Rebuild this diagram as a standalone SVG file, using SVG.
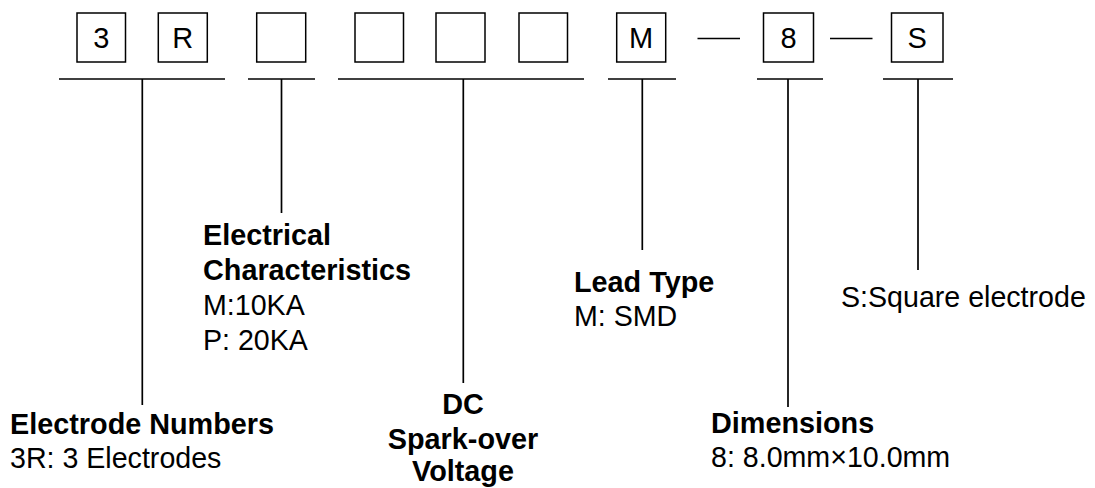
<svg xmlns="http://www.w3.org/2000/svg" width="1095" height="488" viewBox="0 0 1095 488">
<style>
.box{fill:#fff;stroke:#000;stroke-width:1.5}
.ln{stroke:#000;stroke-width:1.7;fill:none}
.bt{font-family:"Liberation Sans",Arial,sans-serif;font-size:29px;fill:#000;text-anchor:middle}
.h{font-family:"Liberation Sans",Arial,sans-serif;font-size:28.8px;font-weight:bold;fill:#000}
.t{font-family:"Liberation Sans",Arial,sans-serif;font-size:28.6px;fill:#000}
</style>
<rect width="1095" height="488" fill="#fff"/>
<g id="code-boxes">
<g id="box-3"><rect class="box" x="77" y="13" width="48.5" height="49"/><text class="bt" x="101.2" y="48">3</text></g>
<g id="box-R"><rect class="box" x="158.3" y="13" width="49" height="49"/><text class="bt" x="182.8" y="48">R</text></g>
<g id="box-e"><rect class="box" x="256.7" y="13" width="49" height="49"/></g>
<g id="box-v1"><rect class="box" x="355" y="13" width="48.5" height="49"/></g>
<g id="box-v2"><rect class="box" x="436" y="13" width="49" height="49"/></g>
<g id="box-v3"><rect class="box" x="519" y="13" width="48.5" height="49"/></g>
<g id="box-M"><rect class="box" x="616.7" y="13" width="49" height="49"/><text class="bt" x="641.2" y="48">M</text></g>
<g id="box-8"><rect class="box" x="763.5" y="13" width="50" height="49"/><text class="bt" x="788.5" y="48">8</text></g>
<g id="box-S"><rect class="box" x="891.5" y="13" width="51.5" height="49"/><text class="bt" x="917.2" y="48">S</text></g>
</g>
<g id="connectors">
<line class="ln" x1="697.5" y1="38.5" x2="740" y2="38.5"/>
<line class="ln" x1="830" y1="38.5" x2="872.5" y2="38.5"/>
<line class="ln" x1="59" y1="79" x2="225" y2="79"/>
<line class="ln" x1="248" y1="79" x2="315" y2="79"/>
<line class="ln" x1="338" y1="79" x2="584" y2="79"/>
<line class="ln" x1="608" y1="79" x2="676" y2="79"/>
<line class="ln" x1="757" y1="79" x2="823" y2="79"/>
<line class="ln" x1="883" y1="79" x2="953" y2="79"/>
<line class="ln" x1="142.3" y1="79" x2="142.3" y2="405"/>
<line class="ln" x1="281.5" y1="79" x2="281.5" y2="213"/>
<line class="ln" x1="463.3" y1="79" x2="463.3" y2="383"/>
<line class="ln" x1="642.3" y1="79" x2="642.3" y2="250"/>
<line class="ln" x1="788" y1="79" x2="788" y2="407"/>
<line class="ln" x1="918" y1="79" x2="918" y2="270"/>
</g>
<g id="label-electrode">
<text class="h" x="10" y="434">Electrode Numbers</text>
<text class="t" x="10" y="468">3R: 3 Electrodes</text>
</g>
<g id="label-electrical">
<text class="h" x="203" y="245">Electrical</text>
<text class="h" x="203" y="280">Characteristics</text>
<text class="t" x="203" y="315">M:10KA</text>
<text class="t" x="203" y="350">P: 20KA</text>
</g>
<g id="label-dc">
<text class="h" x="463" y="414" text-anchor="middle">DC</text>
<text class="h" x="463" y="449" text-anchor="middle">Spark-over</text>
<text class="h" x="463" y="481" text-anchor="middle">Voltage</text>
</g>
<g id="label-lead">
<text class="h" x="574" y="292">Lead Type</text>
<text class="t" x="574" y="326">M: SMD</text>
</g>
<g id="label-square">
<text class="t" x="841" y="307">S:Square electrode</text>
</g>
<g id="label-dimensions">
<text class="h" x="711" y="433">Dimensions</text>
<text class="t" x="711" y="467">8: 8.0mm×10.0mm</text>
</g>
</svg>
